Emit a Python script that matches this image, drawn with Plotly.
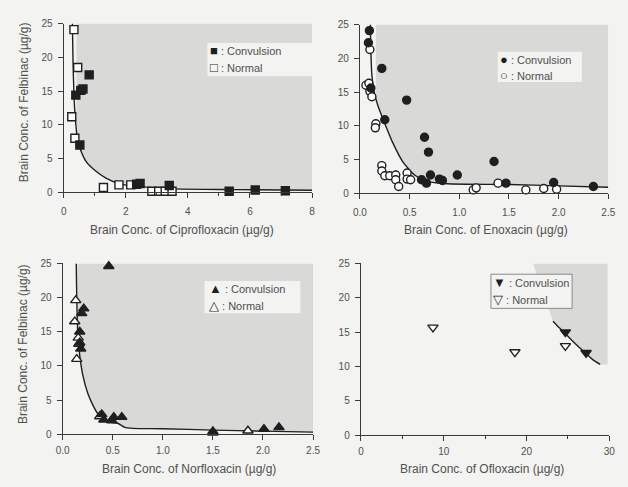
import numpy as np
import plotly.graph_objects as go

W, H = 628, 487

# ---------------- Data ----------------
# Panel 1: Ciprofloxacin
cip_conv_x = [0.39, 0.55, 0.62, 0.82, 0.52, 2.35, 2.46, 3.40, 5.33, 6.17, 7.14]
cip_conv_y = [14.4, 15.1, 15.3, 17.4, 7.0, 1.2, 1.3, 1.0, 0.15, 0.34, 0.24]
cip_norm_x = [0.33, 0.45, 0.26, 0.36, 1.28, 1.78, 2.16, 2.84, 3.06, 3.27, 3.49]
cip_norm_y = [24.1, 18.5, 11.2, 8.0, 0.7, 1.1, 1.1, 0.15, 0.15, 0.15, 0.15]
cip_curve_x = [0.28, 0.30, 0.33, 0.37, 0.44, 0.55, 0.73, 0.99, 1.36, 1.83, 2.57, 3.6, 5.5, 8.0]
cip_curve_y = [25.0, 19.5, 14.5, 11.2, 8.0, 6.2, 4.5, 3.3, 2.1, 1.2, 0.8, 0.5, 0.4, 0.3]
cip_shade_left = 0.41

# Panel 2: Enoxacin
eno_conv_x = [0.095, 0.085, 0.22, 0.11, 0.25, 0.47, 0.65, 0.69, 0.71, 0.62, 0.67, 0.80, 0.83,
              0.98, 1.35, 1.47, 1.95, 2.35]
eno_conv_y = [24.1, 22.3, 18.5, 15.6, 10.9, 13.8, 8.3, 6.1, 2.7, 2.0, 1.5, 2.1, 1.9,
              2.7, 4.7, 1.5, 1.6, 1.0]
eno_norm_x = [0.10, 0.06, 0.09, 0.10, 0.12, 0.16, 0.155, 0.22, 0.22, 0.25, 0.30, 0.36, 0.36,
              0.39, 0.475, 0.475, 0.51, 1.14, 1.17, 1.39, 1.67, 1.85, 1.98]
eno_norm_y = [21.3, 16.0, 16.3, 15.1, 14.3, 10.3, 9.7, 4.1, 3.3, 2.6, 2.6, 2.7, 2.0,
              1.0, 3.0, 2.1, 2.0, 0.5, 0.8, 1.5, 0.5, 0.7, 0.6]
eno_curve_x = [0.105, 0.11, 0.12, 0.14, 0.18, 0.235, 0.33, 0.43, 0.55, 0.67, 0.88, 1.5, 2.0, 2.5]
eno_curve_y = [25.0, 21.0, 17.5, 15.2, 13.0, 10.9, 7.5, 4.7, 2.7, 1.8, 1.4, 1.3, 1.1, 0.9]
eno_shade_left = 0.16

# Panel 3: Norfloxacin
nor_conv_x = [0.46, 0.21, 0.19, 0.17, 0.17, 0.18, 0.39, 0.41, 0.49, 0.51, 0.59, 1.50, 2.01, 2.16]
nor_conv_y = [24.6, 18.4, 17.7, 15.0, 13.4, 12.5, 2.9, 2.1, 2.0, 2.5, 2.5, 0.4, 0.75, 1.0]
nor_norm_x = [0.13, 0.12, 0.14, 0.155, 0.16, 0.37, 1.50, 1.85]
nor_norm_y = [19.6, 16.5, 11.0, 14.1, 13.2, 2.6, 0.2, 0.5]
nor_curve_x = [0.135, 0.14, 0.15, 0.17, 0.20, 0.25, 0.30, 0.35, 0.40, 0.45, 0.55, 0.62, 0.70,
               1.0, 1.5, 2.0, 2.5]
nor_curve_y = [25.0, 20.0, 15.0, 11.5, 8.7, 6.0, 4.3, 3.0, 2.2, 1.8, 1.6, 1.0, 0.85,
               0.8, 0.6, 0.45, 0.3]
nor_shade_left = 0.146

# Panel 4: Ofloxacin
ofl_conv_x = [24.7, 27.2]
ofl_conv_y = [15.0, 12.0]
ofl_norm_x = [8.7, 18.6, 24.7]
ofl_norm_y = [15.7, 12.1, 13.0]
ofl_curve_x = [23.2, 24.0, 25.0, 26.0, 27.0, 28.0, 28.9]
ofl_curve_y = [16.6, 15.6, 14.4, 13.2, 12.1, 11.0, 10.3]
ofl_shade_topleft = 20.8
ofl_shade_right = 29.8

x_titles = ["Brain Conc. of Ciprofloxacin (µg/g)", "Brain Conc. of Enoxacin (µg/g)",
            "Brain Conc. of Norfloxacin (µg/g)", "Brain Conc. of Ofloxacin (µg/g)"]
y_title = "Brain Conc. of Felbinac (µg/g)"
leg_conv = ": Convulsion"
leg_norm = ": Normal"

# ---------------- Styles ----------------
BG = "#f3f3f1"
SHADE = "#d9d9d7"
INK = "#1f1f1f"
AX = "#3a3a3a"
TXT = "#505050"
FONT = "Liberation Sans, Arial, sans-serif"

# panel pixel boxes (left, right, top, bottom)
boxes = [(58, 312, 18, 191), (361, 615, 19, 192), (57, 313, 264, 439), (362, 616, 264, 440)]
label_standoff = [5, 5, 2, 2]

def dom(b):
    l, r, t, btm = b
    return [l / W, r / W], [1 - btm / H, 1 - t / H]

fig = go.Figure()

def add_shade(px, py, ax):
    fig.add_trace(go.Scatter(x=px, y=py, mode="lines", fill="toself", fillcolor=SHADE,
                             line=dict(width=0, color=SHADE), hoverinfo="skip",
                             showlegend=False, xaxis="x" + ax, yaxis="y" + ax))

def shade_from_curve(cx, cy, x0, x1, top):
    y0 = float(np.interp(x0, cx, cy))
    y1 = float(np.interp(x1, cx, cy))
    xs = [x0, x0] + [x for x in cx if x0 < x < x1] + [x1, x1]
    ys = [top, y0] + [y for x, y in zip(cx, cy) if x0 < x < x1] + [y1, top]
    return xs, ys

def add_curve(cx, cy, ax):
    fig.add_trace(go.Scatter(x=cx, y=cy, mode="lines",
                             line=dict(color=INK, width=1.4, shape="spline", smoothing=0.6),
                             hoverinfo="skip", showlegend=False, xaxis="x" + ax, yaxis="y" + ax))

def add_pts(x, y, symbol, filled, size, ax):
    fig.add_trace(go.Scatter(
        x=x, y=y, mode="markers", cliponaxis=False, showlegend=False,
        marker=dict(symbol=symbol, size=size, color=INK if filled else "#ffffff",
                    line=dict(color=INK, width=1.4)),
        xaxis="x" + ax, yaxis="y" + ax))

# shading
sx, sy = shade_from_curve(cip_curve_x, cip_curve_y, cip_shade_left, 8.0, 25)
add_shade(sx, sy, "")
sx, sy = shade_from_curve(eno_curve_x, eno_curve_y, eno_shade_left, 2.5, 25)
add_shade(sx, sy, "2")
sx, sy = shade_from_curve(nor_curve_x, nor_curve_y, nor_shade_left, 2.5, 25)
add_shade(sx, sy, "3")
sx = [ofl_shade_topleft] + ofl_curve_x + [ofl_shade_right, ofl_shade_right]
sy = [25] + ofl_curve_y + [ofl_curve_y[-1], 25]
add_shade(sx, sy, "4")

# curves
add_curve(cip_curve_x, cip_curve_y, "")
add_curve(eno_curve_x, eno_curve_y, "2")
add_curve(nor_curve_x, nor_curve_y, "3")
add_curve(ofl_curve_x, ofl_curve_y, "4")

# points
add_pts(cip_norm_x, cip_norm_y, "square", False, 8, "")
add_pts(cip_conv_x, cip_conv_y, "square", True, 8, "")
add_pts(eno_norm_x, eno_norm_y, "circle", False, 8, "2")
add_pts(eno_conv_x, eno_conv_y, "circle", True, 8, "2")
add_pts(nor_norm_x, nor_norm_y, "triangle-up", False, 9, "3")
add_pts(nor_conv_x, nor_conv_y, "triangle-up", True, 9, "3")
add_pts(ofl_norm_x, ofl_norm_y, "triangle-down", False, 9, "4")
add_pts(ofl_conv_x, ofl_conv_y, "triangle-down", True, 9, "4")

xcfg = [dict(range=[0, 8], dtick=2, minor_dtick=1, fmt=""),
        dict(range=[0, 2.5], dtick=0.5, minor_dtick=None, fmt=".1f"),
        dict(range=[0, 2.5], dtick=0.5, minor_dtick=None, fmt=".1f"),
        dict(range=[0, 30], dtick=10, minor_dtick=5, fmt="")]

layout = dict(width=W, height=H, margin=dict(l=0, r=0, t=0, b=0),
              paper_bgcolor=BG, plot_bgcolor=BG, showlegend=False,
              font=dict(family=FONT, color=TXT, size=10))
for i, (b, xc) in enumerate(zip(boxes, xcfg)):
    sfx = "" if i == 0 else str(i + 1)
    xd, yd = dom(b)
    common = dict(showline=True, linecolor=AX, linewidth=1.4, ticks="outside", ticklen=5,
                  tickwidth=1.4, tickcolor=AX, showgrid=False, zeroline=False,
                  tickfont=dict(size=10, color=TXT, family=FONT), tick0=0)
    xa = dict(common, domain=xd, range=xc["range"], dtick=xc["dtick"], anchor="y" + sfx,
              tickformat=xc["fmt"], ticklabelstandoff=label_standoff[i])
    if xc["minor_dtick"]:
        xa["minor"] = dict(ticks="outside", ticklen=3, dtick=xc["minor_dtick"], tick0=0,
                           tickcolor=AX, tickwidth=1.2)
    ya = dict(common, domain=yd, range=[0, 25], dtick=5, anchor="x" + sfx, ticklabelstandoff=3)
    layout["xaxis" + sfx] = xa
    layout["yaxis" + sfx] = ya
fig.update_layout(**layout)

def P(x, y):
    return x / W, 1 - y / H

# axis titles
xt_pos = [(179, 230), (490, 230), (186, 475), (486, 475)]
for t, (px, py) in zip(x_titles, xt_pos):
    ax_, ay_ = P(px, py)
    fig.add_annotation(xref="paper", yref="paper", x=ax_, y=ay_, text=t, showarrow=False,
                       xanchor="center", yanchor="middle", font=dict(size=12, color=TXT, family=FONT))
for py in (99, 347):
    ax_, ay_ = P(17, py)
    fig.add_annotation(xref="paper", yref="paper", x=ax_, y=ay_, text=y_title, showarrow=False,
                       textangle=-90, xanchor="center", yanchor="middle",
                       font=dict(size=12, color=TXT, family=FONT))

# legends: (box l, r, t, b), glyph x, row ys, glyphs, border
legs = [((205, 312, 38, 72), 206, (46, 63), ("■", "□"), False),
        ((502, 588, 47, 78), 502, (55, 71), ("●", "○"), False),
        ((202, 300, 282, 315), 205, (290, 307), ("▲", "△"), False),
        ((495, 578, 275, 310), 495, (283, 301), ("▼", "▽"), True)]
for (l, r, t, btm), gx, rows, glyphs, border in legs:
    x0, y1 = P(l, t)
    x1, y0 = P(r, btm)
    fig.add_shape(type="rect", xref="paper", yref="paper", x0=x0, x1=x1, y0=y0, y1=y1,
                  fillcolor=BG, line=dict(color="#8a8a8a" if border else BG, width=1 if border else 0),
                  layer="above")
    for gly, lab, ry in zip(glyphs, (leg_conv, leg_norm), rows):
        ax_, ay_ = P(gx, ry)
        fig.add_annotation(xref="paper", yref="paper", x=ax_, y=ay_,
                           text=f"<span style='color:{INK};font-size:13px'>{gly}</span> {lab}",
                           showarrow=False, xanchor="left", yanchor="middle",
                           font=dict(size=11, color=TXT, family=FONT))

fig.write_html("out.html", config={"displayModeBar": False},
               post_script="document.body.style.margin='0';document.body.style.background='%s';" % BG)
